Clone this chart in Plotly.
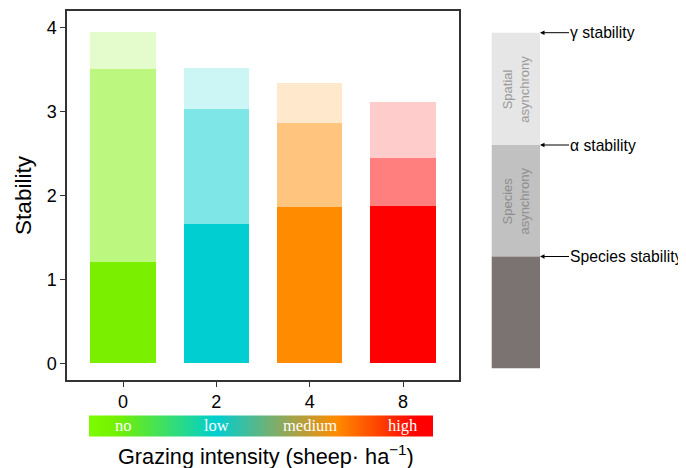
import plotly.graph_objects as go

# ---- data ----
grazing = ["0", "2", "4", "8"]
species_stability = [1.21, 1.66, 1.86, 1.88]
alpha_stability = [3.51, 3.03, 2.86, 2.45]
gamma_stability = [3.95, 3.52, 3.34, 3.11]
intensity_labels = ["no", "low", "medium", "high"]
base_colors = ["#7AF000", "#00CED1", "#FF8C00", "#FF0000"]

species_async = [a - s for a, s in zip(alpha_stability, species_stability)]
spatial_async = [g - a for g, a in zip(gamma_stability, alpha_stability)]

# page body has an 8px default margin, so the figure is drawn 8px lower/righter
OFF = 8
W, H = 686, 468                      # window size
PL, PR, PT, PB = 67, 459, 11, 380    # plot area in window pixels
PW, PH = PR - PL, PB - PT


def px(x):
    return (x - PL) / PW


def py(y):
    return (PB - y) / PH


AR = "Arial, Liberation Sans, sans-serif"
SERIF = "Times New Roman, Liberation Serif, serif"

fig = go.Figure()
fig.add_trace(go.Bar(x=grazing, y=species_stability, marker=dict(color=base_colors, line=dict(width=0)),
                     name="Species stability", hoverinfo="skip"))
fig.add_trace(go.Bar(x=grazing, y=species_async, marker=dict(color=base_colors, opacity=0.5, line=dict(width=0)),
                     name="Species asynchrony", hoverinfo="skip"))
fig.add_trace(go.Bar(x=grazing, y=spatial_async, marker=dict(color=base_colors, opacity=0.2, line=dict(width=0)),
                     name="Spatial asynchrony", hoverinfo="skip"))

# gradient bar as a colorbar
grad = [[0, "#7CFC00"], [0.08, "#74F000"], [0.37, "#00CED1"], [0.72, "#FF8C00"], [0.95, "#FF0000"], [1, "#FF0000"]]
fig.add_trace(go.Heatmap(z=[[0, 1]], colorscale=grad, zmin=0, zmax=1, xaxis="x2", yaxis="y2",
                         hoverinfo="skip", showscale=True,
                         colorbar=dict(orientation="h", x=px(260.5), xanchor="center", y=py(425.5), yanchor="middle",
                                       len=344, lenmode="pixels", thickness=21, thicknessmode="pixels",
                                       outlinewidth=0, borderwidth=0, showticklabels=False, ticks="",
                                       xpad=0, ypad=0)))

fig.update_layout(
    width=W - OFF, height=H - OFF,
    margin=dict(l=PL - OFF, r=W - PR, t=PT - OFF, b=H - PB, autoexpand=False),
    plot_bgcolor="white", paper_bgcolor="white",
    barmode="stack", bargap=0.3, showlegend=False,
    font=dict(family=AR, color="black"),
    xaxis=dict(type="category", range=[-0.6, 3.6], showgrid=False, zeroline=False,
               showline=True, mirror=True, linecolor="#333", linewidth=1.5,
               ticks="outside", ticklen=5, tickcolor="#333", tickwidth=1.3,
               tickfont=dict(size=18, family=AR, color="black")),
    yaxis=dict(range=[-0.2, 4.2], dtick=1, showgrid=False, zeroline=False,
               showline=True, mirror=True, linecolor="#333", linewidth=1.5,
               ticks="outside", ticklen=5, tickcolor="#333", tickwidth=1.3,
               tickfont=dict(size=18, family=AR, color="black"),
               title=dict(text="Stability", font=dict(size=22.5, family=AR), standoff=9)),
    xaxis2=dict(visible=False, range=[10, 11], overlaying="x"),
    yaxis2=dict(visible=False, range=[10, 11], overlaying="y"),
)

annotations = []
# gradient labels (aligned with the category positions)
for i, lab in enumerate(intensity_labels):
    annotations.append(dict(x=i, xref="x", y=py(425), yref="paper", text=lab, showarrow=False,
                            font=dict(family=SERIF, size=16.5, color="white"), xanchor="center", yanchor="middle"))
# x-axis title
annotations.append(dict(x=px(265.5), y=py(455), xref="paper", yref="paper", showarrow=False,
                        text="Grazing intensity (sheep· ha<sup>−1</sup>)",
                        font=dict(family=AR, size=21.7, color="black"), xanchor="center", yanchor="middle"))

# schematic legend
x0, x1 = 491.7, 540
y_top, y_alpha, y_sp, y_bot = 32.7, 145, 256.5, 368.3
shapes = [
    dict(type="rect", xref="paper", yref="paper", x0=px(x0), x1=px(x1), y0=py(y_alpha), y1=py(y_top),
         fillcolor="#E6E6E6", line=dict(width=0)),
    dict(type="rect", xref="paper", yref="paper", x0=px(x0), x1=px(x1), y0=py(y_sp), y1=py(y_alpha),
         fillcolor="#C1C1C1", line=dict(width=0)),
    dict(type="rect", xref="paper", yref="paper", x0=px(x0), x1=px(x1), y0=py(y_bot), y1=py(y_sp),
         fillcolor="#7A7372", line=dict(width=0)),
]
for yy, lab in [(y_top, "γ stability"), (y_alpha, "α stability"), (y_sp, "Species stability")]:
    annotations.append(dict(x=px(x1), y=py(yy), xref="paper", yref="paper", text=lab,
                            showarrow=True, ax=29, ay=0, arrowhead=2, arrowsize=0.9, arrowwidth=1,
                            arrowcolor="black", xanchor="left", yanchor="middle", borderpad=0,
                            font=dict(family=AR, size=15.7, color="black")))
annotations.append(dict(x=px((x0 + x1) / 2), y=py((y_top + y_alpha) / 2), xref="paper", yref="paper",
                        text="Spatial<br>asynchrony", textangle=-90, showarrow=False,
                        xanchor="center", yanchor="middle",
                        font=dict(family=AR, size=13, color="#9A9A9A")))
annotations.append(dict(x=px((x0 + x1) / 2), y=py((y_alpha + y_sp) / 2), xref="paper", yref="paper",
                        text="Species<br>asynchrony", textangle=-90, showarrow=False,
                        xanchor="center", yanchor="middle",
                        font=dict(family=AR, size=13, color="#8E8E8E")))

fig.update_layout(annotations=annotations, shapes=shapes)
fig.write_html("out.html")
